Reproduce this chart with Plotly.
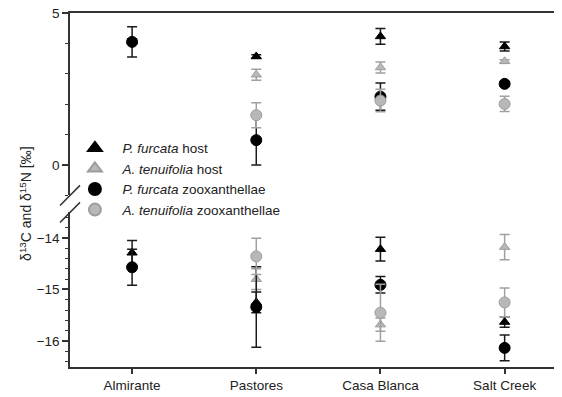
import plotly.graph_objects as go

# ---------------- data ----------------
sites = ["Almirante", "Pastores", "Casa Blanca", "Salt Creek"]

pf_host_N = [4.07, 3.57, 4.23, 3.90]
pf_host_N_err = [0.08, 0.06, 0.26, 0.15]
pf_host_C = [-14.29, -15.25, -14.22, -15.63]
pf_host_C_err = [0.24, 0.20, 0.23, 0.10]

at_host_N = [None, 2.97, 3.21, 3.41]
at_host_N_err = [None, 0.18, 0.18, 0.05]
at_host_C = [None, -14.80, -15.68, -14.18]
at_host_C_err = [None, 0.20, 0.13, 0.245]

pf_zoox_N = [4.05, 0.82, 2.25, 2.67]
pf_zoox_N_err = [0.50, 0.82, 0.45, 0.08]
pf_zoox_C = [-14.57, -15.34, -14.91, -16.13]
pf_zoox_C_err = [0.35, 0.78, 0.16, 0.25]

at_zoox_N = [None, 1.64, 2.12, 2.01]
at_zoox_N_err = [None, 0.41, 0.37, 0.25]
at_zoox_C = [None, -14.36, -15.45, -15.25]
at_zoox_C_err = [None, 0.35, 0.55, 0.28]

top_ticks = [0, 5]
bottom_ticks = [-14, -15, -16]

# ---------------- styling ----------------
BLACK = "#000000"
BLACK_ERR = "#1a1a1a"
GRAY = "#b8b8b8"
GRAY_LINE = "#9c9c9c"
GRAY_ERR = "#a0a0a0"
PAD = "\u00a0\u00a0"

series = [
    (PAD + "<i>P. furcata</i> host", "triangle-up", BLACK, BLACK, BLACK_ERR,
     pf_host_N, pf_host_N_err, pf_host_C, pf_host_C_err),
    (PAD + "<i>A. tenuifolia</i> host", "triangle-up", GRAY, GRAY_LINE, GRAY_ERR,
     at_host_N, at_host_N_err, at_host_C, at_host_C_err),
    (PAD + "<i>P. furcata</i> zooxanthellae", "circle", BLACK, BLACK, BLACK_ERR,
     pf_zoox_N, pf_zoox_N_err, pf_zoox_C, pf_zoox_C_err),
    (PAD + "<i>A. tenuifolia</i> zooxanthellae", "circle", GRAY, GRAY_LINE, GRAY_ERR,
     at_zoox_N, at_zoox_N_err, at_zoox_C, at_zoox_C_err),
]

fig = go.Figure()
for i, (name, sym, fc, lc, ec, N, Ne, C, Ce) in enumerate(series):
    size = 11 if sym == "circle" else 9
    fig.add_trace(go.Scatter(
        x=sites, y=N, mode="markers", name=name, legendgroup=str(i),
        marker=dict(symbol=sym, size=size, color=fc, line=dict(color=lc, width=1)),
        error_y=dict(type="data", array=Ne, color=ec, thickness=1.5, width=5),
        xaxis="x2", yaxis="y", cliponaxis=False,
    ))
    fig.add_trace(go.Scatter(
        x=sites, y=C, mode="markers", name=name, legendgroup=str(i),
        showlegend=False,
        marker=dict(symbol=sym, size=size, color=fc, line=dict(color=lc, width=1)),
        error_y=dict(type="data", array=Ce, color=ec, thickness=1.5, width=5),
        xaxis="x", yaxis="y2", cliponaxis=False,
    ))

FONT = "Liberation Sans, Arial, sans-serif"
AX = "#333333"

fig.update_layout(
    width=554, height=389,
    margin=dict(l=62, r=0, t=5, b=30),
    paper_bgcolor="white", plot_bgcolor="white",
    font=dict(family=FONT, size=13, color="#222"),
    showlegend=True,
    legend=dict(x=0.01, y=0.662, xanchor="left", yanchor="top",
                bgcolor="rgba(0,0,0,0)", font=dict(size=13.5, color="#222"),
                tracegroupgap=0, itemsizing="constant"),
    xaxis=dict(domain=[0, 1], anchor="y2", type="category",
               range=[-0.5, 3.462], tickvals=sites, ticktext=sites,
               showline=True, linecolor=AX, linewidth=1.5,
               ticks="outside", ticklen=5, tickcolor=AX, tickwidth=1.5,
               showgrid=False, zeroline=False, tickfont=dict(size=13.5),
               ticklabeloverflow="allow", automargin=False),
    xaxis2=dict(domain=[0, 1], anchor="y", matches="x", type="category",
                side="top", showline=True, linecolor=AX, linewidth=1.5,
                showticklabels=False, ticks="", showgrid=False, zeroline=False,
                automargin=False),
    yaxis=dict(domain=[0.4845, 1], anchor="x2", range=[-1, 5],
               tickvals=top_ticks, showline=True, linecolor=AX, linewidth=1.5,
               ticks="outside", ticklen=6, tickcolor=AX, tickwidth=1.5,
               minor=dict(dtick=1, ticks="outside", ticklen=3, tickcolor=AX,
                          tickwidth=1.2, showgrid=False),
               showgrid=False, zeroline=False, tickfont=dict(size=13.5),
               ticklabeloverflow="allow", automargin=False),
    yaxis2=dict(domain=[0, 0.438], anchor="x", range=[-16.5, -13.5],
                tickvals=bottom_ticks, showline=True, linecolor=AX, linewidth=1.5,
                ticks="outside", ticklen=6, tickcolor=AX, tickwidth=1.5,
                minor=dict(dtick=0.2, tick0=-16, ticks="outside", ticklen=3,
                           tickcolor=AX, tickwidth=1.2, showgrid=False),
                showgrid=False, zeroline=False, tickfont=dict(size=13.5),
                automargin=False),
)

# axis title spanning both panels
fig.add_annotation(
    text="δ<sup>13</sup>C and δ<sup>15</sup>N [‰]",
    xref="paper", yref="paper", x=-0.09, y=0.46,
    xanchor="center", yanchor="middle", textangle=-90, showarrow=False,
    font=dict(size=14, color="#222"),
)

# break marks
for dx in (0.0, 1.0096):
    for (y0, y1) in ((0.456, 0.513), (0.408, 0.465)):
        fig.add_shape(type="line", xref="paper", yref="paper",
                      x0=-0.0203 + dx, x1=0.0203 + dx, y0=y0, y1=y1,
                      line=dict(color=AX, width=1.5))

fig.write_html("out.html")
